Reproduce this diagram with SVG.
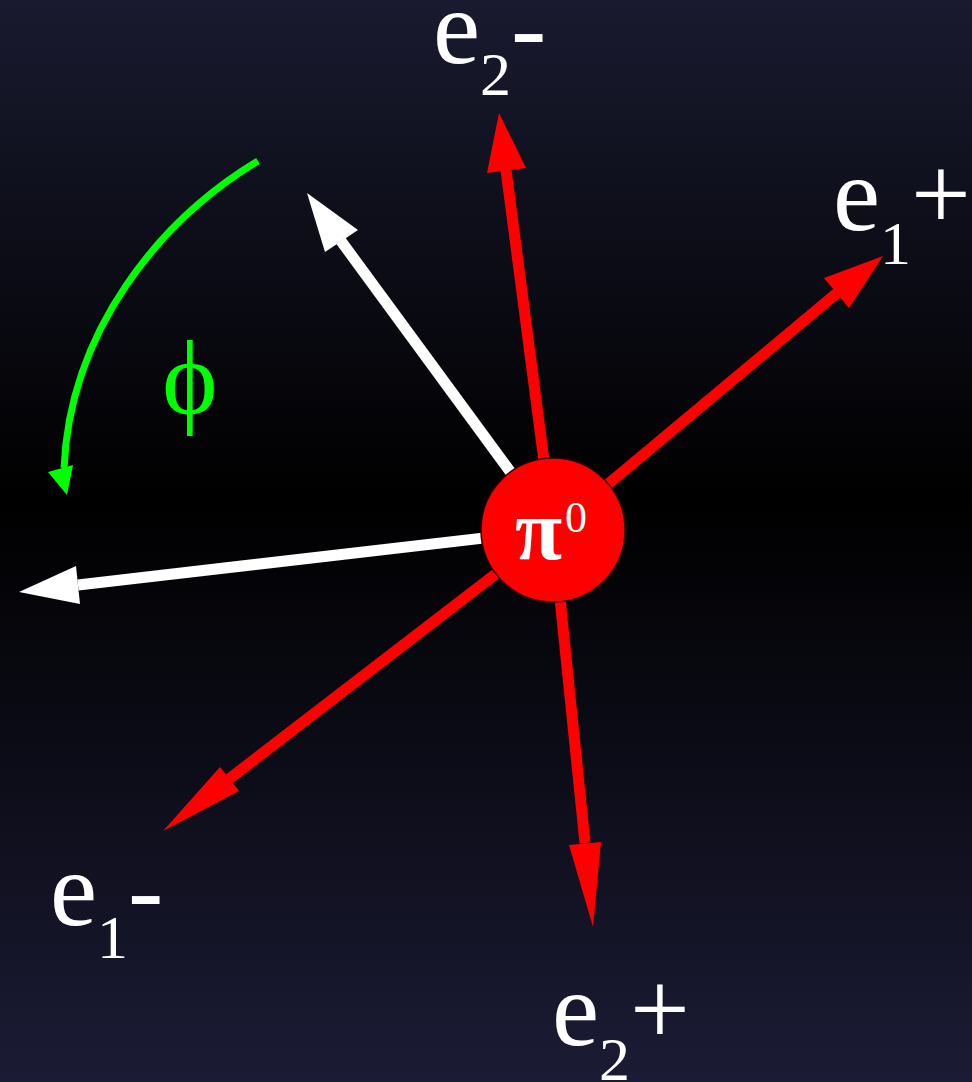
<svg xmlns="http://www.w3.org/2000/svg" width="972" height="1082" viewBox="0 0 972 1082">
<defs>
<linearGradient id="bg" x1="0" y1="0" x2="0" y2="1">
<stop offset="0" stop-color="#191a2f"/>
<stop offset="0.46" stop-color="#000000"/>
<stop offset="1" stop-color="#1b1b35"/>
</linearGradient>
<style>
.red{stroke:#ff0000;stroke-width:11;fill:none}
.redh{fill:#ff0000}
.wht{stroke:#ffffff;stroke-width:11;fill:none}
.whth{fill:#ffffff}
.lbl{font-family:"Liberation Serif","Times New Roman",serif;fill:#ffffff;font-size:106px}
.sub{font-size:62px}
</style>
</defs>
<rect x="0" y="0" width="972" height="1082" fill="url(#bg)"/>
<g id="connectors">
<line class="wht" x1="553" y1="530" x2="341" y2="241"/>
<polygon class="whth" points="307,193 325,252 358,230"/>
<line class="wht" x1="553" y1="530" x2="78" y2="585"/>
<polygon class="whth" points="19,592 76,566 80,604"/>
<line class="red" x1="553" y1="530" x2="506" y2="170"/>
<polygon class="redh" points="499,113 487,173 526,168"/>
<line class="red" x1="553" y1="530" x2="837" y2="293"/>
<polygon class="redh" points="883,256 824,278 849,308"/>
<line class="red" x1="553" y1="530" x2="229" y2="779"/>
<polygon class="redh" points="163,831 220,767 239,791"/>
<line class="red" x1="553" y1="530" x2="585" y2="843"/>
<polygon class="redh" points="593,927 569,845 601,842"/>
</g>
<g id="phi-arc">
<path d="M258,161 C160,220 70,330 64,468" stroke="#00ff00" stroke-width="7" fill="none"/>
<polygon points="67,495 48,472 73,465" fill="#00ff00"/>
<text x="190" y="413" text-anchor="middle" font-family="Liberation Serif, serif" font-size="105" fill="#00ff00">ϕ</text>
</g>
<g id="pi0">
<circle cx="553" cy="530" r="72" fill="#ff0000" stroke="#300000" stroke-width="1.5"/>
<text x="515" y="559" font-family="Liberation Serif, serif" font-size="86" font-weight="bold" fill="#ffffff">π</text>
<text x="565" y="532" font-family="Liberation Serif, serif" font-size="44" fill="#ffffff">0</text>
</g>
<g id="e2minus"><text class="lbl" x="433" y="63">e<tspan class="sub" dy="32">2</tspan><tspan dy="-32">-</tspan></text></g>
<g id="e1plus"><text class="lbl" x="833" y="230">e<tspan class="sub" dy="34">1</tspan><tspan dy="-34">+</tspan></text></g>
<g id="e1minus"><text class="lbl" x="50" y="925">e<tspan class="sub" dy="33">1</tspan><tspan dy="-33">-</tspan></text></g>
<g id="e2plus"><text class="lbl" x="552" y="1045">e<tspan class="sub" dy="35">2</tspan><tspan dy="-35">+</tspan></text></g>
</svg>
